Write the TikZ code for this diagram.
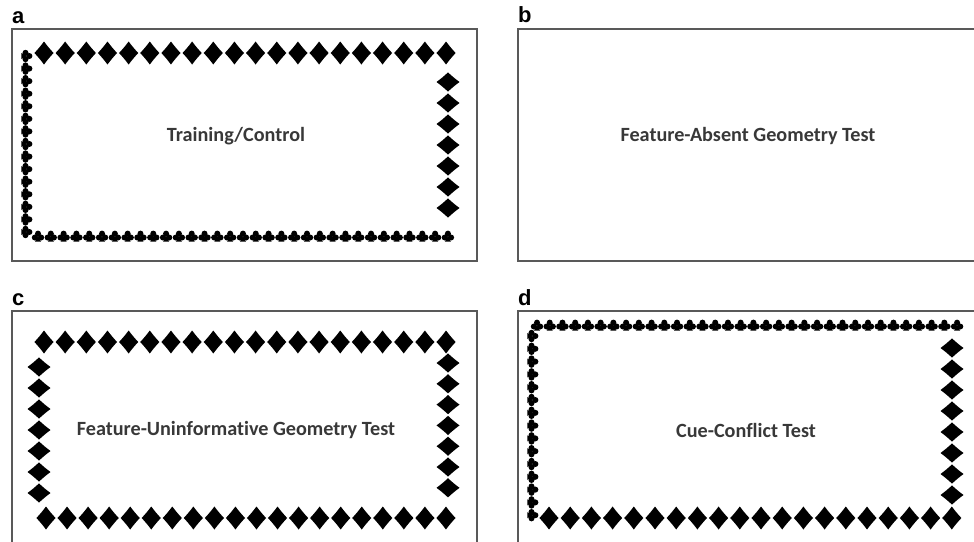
\documentclass[tikz,border=0pt]{standalone}
\usepackage{fontspec}
\setmainfont[Ligatures=NoCommon]{Carlito}
\newfontfamily\tagfont{Liberation Sans}

\tikzset{
  px/.style={x=1pt,y=-1pt},
  panel/.style={draw=black!65, line width=1.4pt},
  caption/.style={font=\bfseries\fontsize{20.2}{23}\selectfont, text=black!78, inner sep=0pt},
  paneltag/.style={font=\tagfont\bfseries\fontsize{22}{25}\selectfont, anchor=base west, inner sep=0pt},
  suit/.style={fill=black},
  % card diamond, upright (taller than wide), sides slightly hollow
  pics/diam/.style={code={
    \fill[suit] (0,11.5) .. controls (3.6,6.6) and (6.6,3.2) .. (9.6,0)
      .. controls (6.6,-3.2) and (3.6,-6.6) .. (0,-11.5)
      .. controls (-3.6,-6.6) and (-6.6,-3.2) .. (-9.6,0)
      .. controls (-6.6,3.2) and (-3.6,6.6) .. cycle;}},
  % small club: three leaves and a flared stem
  pics/club/.style={code={
    \fill[suit] (0,-2.4) circle (3.0) (-3.2,1.5) circle (3.0) (3.2,1.5) circle (3.0);
    \fill[suit] (0,0) -- (-3,5.6) -- (3,5.6) -- cycle;}}
}

\begin{document}
\begin{tikzpicture}[px]
\useasboundingbox (0,0) rectangle (974,541);
\clip (0,0) rectangle (974,541);

% panel frames
\draw[panel] (12,29) rectangle (477,261);
\draw[panel] (518,29) rectangle (985,261);
\draw[panel] (12,311) rectangle (477,552);
\draw[panel] (518,311) rectangle (985,552);

% panel tags
\node[paneltag] (ta) at (12,23) {a};
\node[paneltag] (tb) at (518,22) {b};
\node[paneltag] (tc) at (12,305) {c};
\node[paneltag] (td) at (518,305) {d};

% panel a: diamonds on top and right, clubs on bottom and left
\foreach \i in {0,...,19} \pic at ({44+\i*21.16},53) {diam};
\foreach \j in {0,...,6} \pic[rotate=90] at (448,{82+\j*21}) {diam};
\foreach \i in {0,...,32} \pic at ({38+\i*12.81},236) {club};
\foreach \j in {0,...,14} \pic[rotate=-90] at (27,{56+\j*12.57}) {club};
\node[caption] (capa) at (236,136) {Training/Control};

% panel b: bare room
\node[caption] (capb) at (748,136) {Feature-Absent Geometry Test};

% panel c: diamonds on all four walls
\foreach \i in {0,...,19} \pic at ({44+\i*21.16},342) {diam};
\foreach \i in {0,...,19} \pic at ({46+\i*21.05},518) {diam};
\foreach \j in {0,...,6} \pic[rotate=90] at (39,{367+\j*21}) {diam};
\foreach \j in {0,...,6} \pic[rotate=90] at (448,{363+\j*20.8}) {diam};
\node[caption] (capc) at (236,430) {Feature-Uninformative Geometry Test};

% panel d: clubs on top and left, diamonds on right and bottom
\foreach \i in {0,...,33} \pic at ({537+\i*12.73},325) {club};
\foreach \j in {0,...,14} \pic[rotate=-90] at (533,{336+\j*12.8}) {club};
\foreach \j in {0,...,7} \pic[rotate=90] at (952,{348+\j*21}) {diam};
\foreach \i in {0,...,19} \pic at ({549+\i*21.2},518) {diam};
\node[caption] (capd) at (746,430) {Cue-Conflict Test};
\end{tikzpicture}
\end{document}
